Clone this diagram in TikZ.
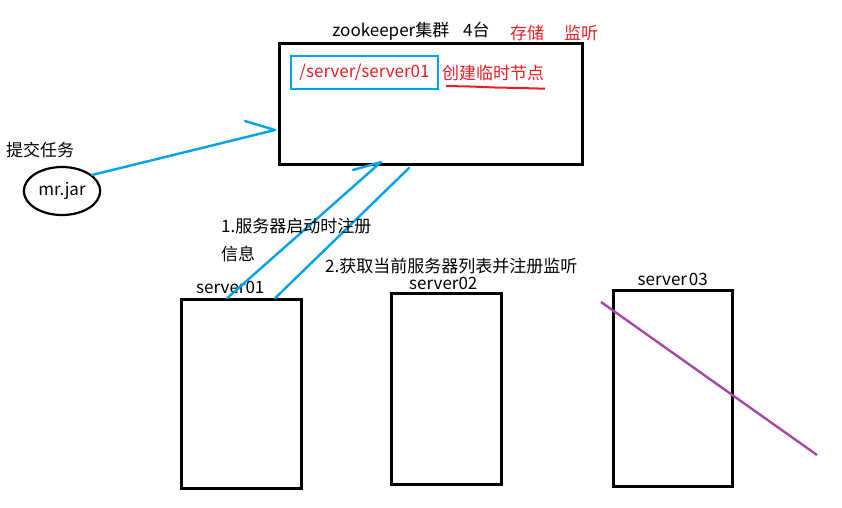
\documentclass[tikz,border=0pt]{standalone}
\usepackage{fontspec}
\setmainfont{Noto Sans CJK SC}
\usetikzlibrary{positioning, calc, shapes.geometric}
\definecolor{zkblue}{RGB}{0,162,232}
\definecolor{zkred}{RGB}{237,28,36}
\definecolor{zkpurple}{RGB}{163,73,164}

\begin{document}
\begin{tikzpicture}[x=1pt, y=-1pt, font=\fontsize{17}{19}\selectfont,
    box/.style={draw, line width=2.6pt, anchor=north west, inner sep=0pt},
    wire/.style={zkblue, line width=2.4pt, line cap=round, line join=round}]
    \useasboundingbox (0,0) rectangle (842,507);
    % zookeeper cluster
    \node[box, minimum width=303pt, minimum height=121pt] (zk) at (278,42) {};
    \node (title) at (411,31) {zookeeper集群\hspace{14pt}4台};
    \node[zkred] (store) at (527,33) {存储};
    \node[zkred] (watch) at (581,33) {监听};
    \node[draw=zkblue, line width=2.6pt, minimum width=147pt, minimum height=33pt, text=zkred] (path) at (364.5,72.5) {/server/server01};
    \node[zkred, anchor=west, inner sep=0pt] (ephem) at (442,73) {创建临时节点};
    \draw[zkred, line width=2pt] (446,86) -- (470,86.5) -- (495,87.5) -- (520,88) -- (545,88.7);
    % client
    \node[draw, ellipse, line width=2.2pt, minimum width=74pt, minimum height=48pt] (jar) at (62,191) {mr.jar};
    \node (submit) at (40,150) {提交任务};
    \coordinate (sub tip) at (275,130);
    \draw[wire] (jar.28) -- (sub tip) -- (245,121);
    % servers
    \node[box, minimum width=120pt, minimum height=189pt] (s1) at (180,298) {};
    \node[box, minimum width=110pt, minimum height=191pt] (s2) at (390,292) {};
    \node[box, minimum width=119pt, minimum height=196pt] (s3) at (612,289) {};
    \node[above=4pt of s1, xshift=-11pt, inner sep=0pt] (s1 name) {server01};
    \node[above=2pt of s2, xshift=-3pt, inner sep=0pt] (s2 name) {server02};
    \node[above=3pt of s3, inner sep=0pt] (s3 name) {server\hspace{2pt}03};
    % register / watch
    \coordinate (reg tip) at (381,162);
    \coordinate (get end) at (409,168);
    \draw[wire] ($(s1.north)+(-14,0)$) -- (reg tip) -- (353,170);
    \draw[wire] (get end) -- ($(s1.north)+(34,0)$);
    \node[anchor=west, inner sep=0pt] (step one) at (221,226) {1.服务器启动时注册};
    \node[anchor=west, inner sep=0pt] (step one b) at (221,254) {信息};
    \node[anchor=west, inner sep=0pt] (step two) at (325,266) {2.获取当前服务器列表并注册监听};
    % server03 down
    \draw[zkpurple, line width=2.4pt] (601,302) -- (817,455);
\end{tikzpicture}
\end{document}
